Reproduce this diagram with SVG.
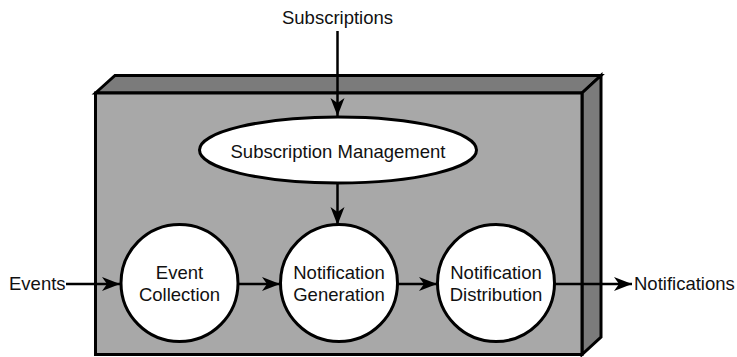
<svg xmlns="http://www.w3.org/2000/svg" width="737" height="357" viewBox="0 0 737 357">
<defs>
<marker id="ah" markerUnits="userSpaceOnUse" markerWidth="20" markerHeight="16" refX="18" refY="7" orient="auto" viewBox="0 0 20 14">
<path d="M18,7 L0,0 L5,7 L0,14 Z" fill="#000"/>
</marker>
<style>
.box{stroke:#000;stroke-width:3;stroke-linejoin:miter}
.node{fill:#fff;stroke:#000;stroke-width:3}
.t{font-family:"Liberation Sans",Arial,sans-serif;font-size:18.5px;fill:#111;text-anchor:middle}
.c{stroke:#000;stroke-width:2.5;fill:none;marker-end:url(#ah)}
</style>
</defs>
<rect width="737" height="357" fill="#fff"/>
<g id="container">
<polygon class="box" fill="#7b7b7b" points="95.5,93 115,75.5 601,75.5 582,93"/>
<polygon class="box" fill="#7b7b7b" points="582,93 601,75.5 601,337 582,354.5"/>
<rect class="box" fill="#a8a8a8" x="95.5" y="93" width="486.5" height="261.5"/>
</g>
<g id="connectors">
<line class="c" x1="337.5" y1="31" x2="337.5" y2="116"/>
<line class="c" x1="337.5" y1="183" x2="337.5" y2="225"/>
<line class="c" x1="66" y1="284" x2="120" y2="284"/>
<line class="c" x1="238" y1="284" x2="280" y2="284"/>
<line class="c" x1="397" y1="284" x2="437" y2="284"/>
<line class="c" x1="555" y1="284" x2="632" y2="284"/>
</g>
<g id="subscriptions"><text class="t" x="337.5" y="24">Subscriptions</text></g>
<g id="events"><text class="t" x="9" y="290" style="text-anchor:start">Events</text></g>
<g id="notifications"><text class="t" x="634" y="290" style="text-anchor:start">Notifications</text></g>
<g id="subscription-management">
<ellipse class="node" cx="338" cy="150" rx="138.5" ry="33"/>
<text class="t" x="338" y="158">Subscription Management</text>
</g>
<g id="event-collection">
<circle class="node" cx="179.5" cy="283" r="58.5"/>
<text class="t" x="179.5" y="279">Event</text>
<text class="t" x="179.5" y="301">Collection</text>
</g>
<g id="notification-generation">
<circle class="node" cx="339" cy="283" r="58.5"/>
<text class="t" x="339" y="279">Notification</text>
<text class="t" x="339" y="301">Generation</text>
</g>
<g id="notification-distribution">
<circle class="node" cx="496" cy="283" r="58.5"/>
<text class="t" x="496" y="279">Notification</text>
<text class="t" x="496" y="301">Distribution</text>
</g>
</svg>
